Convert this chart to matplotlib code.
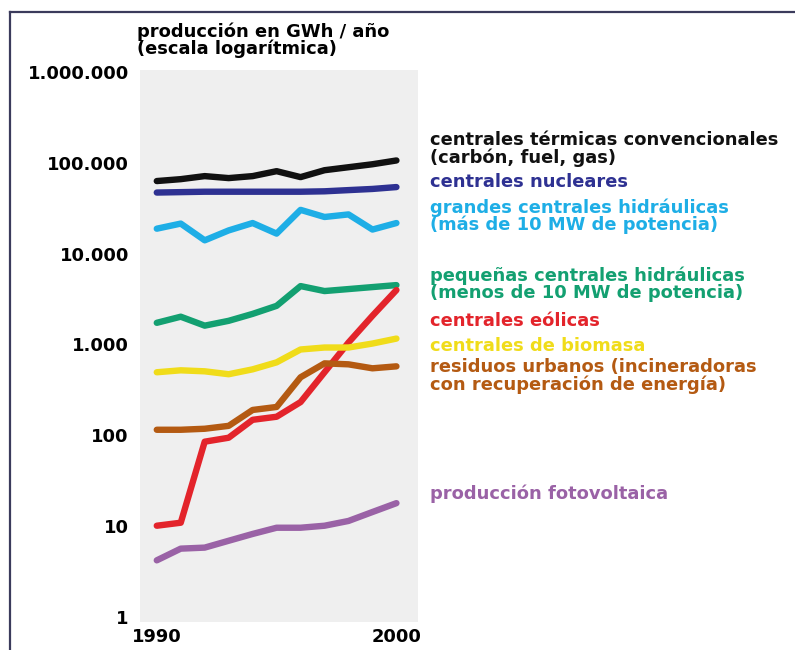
import numpy as np
import matplotlib
matplotlib.use('Agg')
import matplotlib.pyplot as plt
from matplotlib.lines import Line2D

# datos (GWh / año)
anios = list(range(1990, 2001))

termicas = [62900, 66000, 71300, 67800, 71300, 80800, 69500, 82800, 89300, 96300, 106000]
nucleares = [47000, 47500, 48000, 48000, 48000, 48000, 48000, 48500, 50000, 51500, 54000]
grandes_hidro = [18800, 21400, 14000, 18000, 21700, 16600, 30300, 25300, 27000, 18400, 21700]
pequenas_hidro = [1730, 2020, 1610, 1820, 2170, 2660, 4390, 3870, 4070, 4280, 4500]
eolicas = [10.1, 10.9, 85, 94, 148, 160, 232, 494, 1050, 2070, 3970]
biomasa = [494, 519, 506, 470, 532, 635, 880, 925, 925, 1023, 1160]
residuos = [115, 115, 118, 127, 190, 205, 435, 619, 604, 546, 574]
fotovoltaica = [4.2, 5.65, 5.8, 6.9, 8.2, 9.6, 9.6, 10.1, 11.4, 14.3, 17.9]

series = [
    (termicas, '#111111', 'centrales térmicas convencionales\n(carbón, fuel, gas)', 149),
    (nucleares, '#2e3192', 'centrales nucleares', 182),
    (grandes_hidro, '#1eaee6', 'grandes centrales hidráulicas\n(más de 10 MW de potencia)', 216),
    (pequenas_hidro, '#13a071', 'pequeñas centrales hidráulicas\n(menos de 10 MW de potencia)', 284),
    (eolicas, '#e3242b', 'centrales eólicas', 321),
    (biomasa, '#f0dc1a', 'centrales de biomasa', 346),
    (residuos, '#b45a12', 'residuos urbanos (incineradoras\ncon recuperación de energía)', 376),
    (fotovoltaica, '#9a62a6', 'producción fotovoltaica', 494),
]

ytick_vals = [1, 10, 100, 1000, 10000, 100000, 1000000]
ytick_labels = ['1', '10', '100', '1.000', '10.000', '100.000', '1.000.000']

FS = 12.9

W, H = 795, 650
fig = plt.figure(figsize=(W / 100, H / 100), dpi=100)
fig.patch.set_facecolor('white')

ax = fig.add_axes([140 / W, 1 - 622 / H, (418 - 140) / W, (622 - 70) / H])
ax.set_facecolor('#efefef')

for valores, color, etiqueta, ypix in series:
    ax.plot(anios, valores, color=color, lw=4.6, solid_capstyle='round', solid_joinstyle='round')
    fig.text(430 / W, 1 - ypix / H, etiqueta, color=color, fontsize=FS,
             fontweight='bold', ha='left', va='center', linespacing=0.92)

ax.set_yscale('log')
ax.set_ylim(0.88, 1.05e6)
ax.set_xlim(1989.3, 2000.9)
ax.set_yticks(ytick_vals)
ax.set_yticklabels(ytick_labels)
ax.yaxis.set_minor_locator(matplotlib.ticker.NullLocator())
ax.set_xticks([1990, 2000])
ax.set_xticklabels(['1990', '2000'])
for lab in ax.get_xticklabels() + ax.get_yticklabels():
    lab.set_fontweight('bold')
    lab.set_fontsize(FS)
ax.tick_params(axis='y', length=0, pad=8)
ax.tick_params(axis='x', length=0, pad=4)
for s in ax.spines.values():
    s.set_visible(False)

fig.text(137 / W, 1 - 40 / H, 'producción en GWh / año\n(escala logarítmica)',
         fontsize=FS, fontweight='bold', ha='left', va='center', linespacing=0.92)

# marco
fig.add_artist(Line2D([10 / W, 1], [1 - 12 / H, 1 - 12 / H], color='#3b3b5c', lw=1.6))
fig.add_artist(Line2D([10 / W, 10 / W], [0, 1 - 12 / H], color='#3b3b5c', lw=1.6))

fig.savefig('out.png', dpi=100)
